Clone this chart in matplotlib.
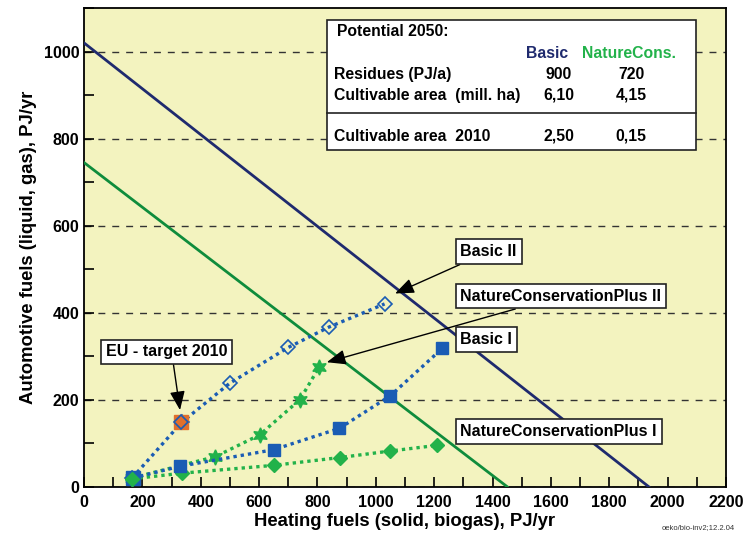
import numpy as np
import matplotlib
matplotlib.use("Agg")
from matplotlib import pyplot as plt

plt.rcParams['font.family'] = ['Liberation Sans', 'DejaVu Sans']
plt.rcParams['font.weight'] = 'bold'
plt.rcParams['axes.labelweight'] = 'bold'

# potential lines (intercepts on the two axes)
basic_line_x = [0, 1935]
basic_line_y = [1020, 0]
nature_line_x = [0, 1450]
nature_line_y = [745, 0]

# scenario paths
basic2_x = [165, 335, 500, 700, 840, 1030]
basic2_y = [20, 148, 238, 320, 367, 420]
basic1_x = [168, 330, 650, 875, 1050, 1228]
basic1_y = [20, 47, 85, 134, 209, 318]
ncp2_x = [165, 450, 602, 740, 805]
ncp2_y = [20, 69, 119, 200, 274]
ncp1_x = [165, 335, 650, 877, 1050, 1210]
ncp1_y = [18, 31, 49, 67, 82, 95]
eu_target_x = [333]
eu_target_y = [148]

# table in the upper right
table_rows = ["Residues (PJ/a)", "Cultivable area  (mill. ha)", "Cultivable area  2010"]
table_basic = ["900", "6,10", "2,50"]
table_nature = ["720", "4,15", "0,15"]

navy = "#1f2a6e"
dgreen = "#0f8c3c"
blue = "#1a5cb4"
green = "#22b24a"
orange = "#e0702c"
bg = "#f3f3bf"

fig = plt.figure(figsize=(7.46, 5.38), dpi=100)
ax = fig.add_axes([0.1126, 0.0954, 0.8606, 0.8896])
ax.set_facecolor(bg)

ax.plot(basic_line_x, basic_line_y, color=navy, lw=2, zorder=3)
ax.plot(nature_line_x, nature_line_y, color=dgreen, lw=2, zorder=3)

dot = dict(ls=(0, (1, 1.2)), lw=2.4, zorder=4)
ax.plot(ncp1_x, ncp1_y, color=green, marker='D', ms=7, mfc=green, mec=green, **dot)
ax.plot(ncp2_x, ncp2_y, color=green, marker=(6, 1, 0), ms=11, mfc=green, mec=green, **dot)
ax.plot(basic1_x, basic1_y, color=blue, marker='s', ms=9, mfc=blue, mec=blue, **dot)
ax.plot(basic2_x, basic2_y, color=blue, marker='D', ms=7, mfc='none', mec=blue, mew=1.2, **dot)
ax.plot(eu_target_x, eu_target_y, ls='none', marker='s', ms=10, mfc=orange, mec=orange, zorder=5)
ax.plot(eu_target_x, eu_target_y, ls='none', marker='D', ms=7, mfc='none', mec=blue, mew=1.2, zorder=6)
# first point is drawn as a blue square with a green diamond
ax.plot(basic1_x[0], basic1_y[0], ls='none', marker='s', ms=10, mfc=blue, mec=blue, zorder=5)
ax.plot(ncp1_x[0], ncp1_y[0], ls='none', marker='D', ms=7, mfc=green, mec=green, zorder=6)

ax.set_xlim(0, 2200)
ax.set_ylim(0, 1100)
ax.set_xticks(np.arange(0, 2201, 200))
ax.set_xticks(np.arange(0, 2201, 100), minor=True)
ax.set_yticks(np.arange(0, 1001, 200))
ax.set_yticks(np.arange(0, 1101, 100), minor=True)
ax.tick_params(which='both', direction='in', length=7, width=1.2, labelsize=11.5)
ax.tick_params(axis='x', pad=6)
ax.grid(axis='y', which='major', color='#333333', ls=(0, (5, 5)), lw=1)
for s in ax.spines.values():
    s.set_linewidth(1.3)

ax.set_xlabel("Heating fuels (solid, biogas), PJ/yr", fontsize=13.3, labelpad=2)
ax.set_ylabel("Automotive fuels (liquid, gas), PJ/yr", fontsize=13.3, labelpad=5)

box = dict(boxstyle='square,pad=0.3', fc='white', ec='#222222', lw=1.2)
arr = dict(arrowstyle='-|>,head_length=1.0,head_width=0.4', color='black', lw=1, shrinkA=0, shrinkB=0)
ax.annotate("Basic II", xy=(1066, 444), xytext=(1290, 540), fontsize=11.5,
            bbox=box, arrowprops=arr, va='center', zorder=7)
ax.annotate("NatureConservationPlus II", xy=(832, 286), xytext=(1290, 438), fontsize=11.5,
            bbox=box, arrowprops=arr, va='center', zorder=7)
ax.annotate("EU - target 2010", xy=(329, 176), xytext=(75, 310), fontsize=11.5,
            bbox=box, arrowprops=dict(arr, relpos=(0.55, 0)), va='center', zorder=7)
ax.text(1290, 338, "Basic I", fontsize=11.5, bbox=box, va='center', zorder=7)
ax.text(1290, 127, "NatureConservationPlus I", fontsize=11.5, bbox=box, va='center', zorder=7)

# table box (positions given in image pixels, converted to axes fractions)
def fx(px):
    return (px - 84) / 642.0
def fy(py):
    return (486.7 - py) / 478.7
tb = plt.Rectangle((fx(327), fy(150)), fx(696) - fx(327), fy(20) - fy(150),
                   transform=ax.transAxes, fc='white', ec='#222222', lw=1.2, zorder=7)
ax.add_patch(tb)
tk = dict(transform=ax.transAxes, fontsize=11.3, va='center', zorder=8)
ax.text(fx(337), fy(31), "Potential 2050:", **tk)
ax.text(fx(547), fy(53), "Basic", ha='center', color=navy, **tk)
ax.text(fx(629), fy(53), "NatureCons.", ha='center', color=green, **tk)
for lab, b, n, py in zip(table_rows, table_basic, table_nature, [74, 95, 136]):
    ax.text(fx(334), fy(py), lab, **tk)
    ax.text(fx(559), fy(py), b, ha='center', **tk)
    ax.text(fx(631), fy(py), n, ha='center', **tk)
ax.plot([fx(327), fx(696)], [fy(113), fy(113)], transform=ax.transAxes, color='#222222', lw=1.2, zorder=8)

fig.text(0.985, 0.012, "oeko/bio-inv2;12.2.04", fontsize=5.5, ha='right', va='bottom', weight='normal', color='#333333')

fig.savefig("out.png", dpi=100)
